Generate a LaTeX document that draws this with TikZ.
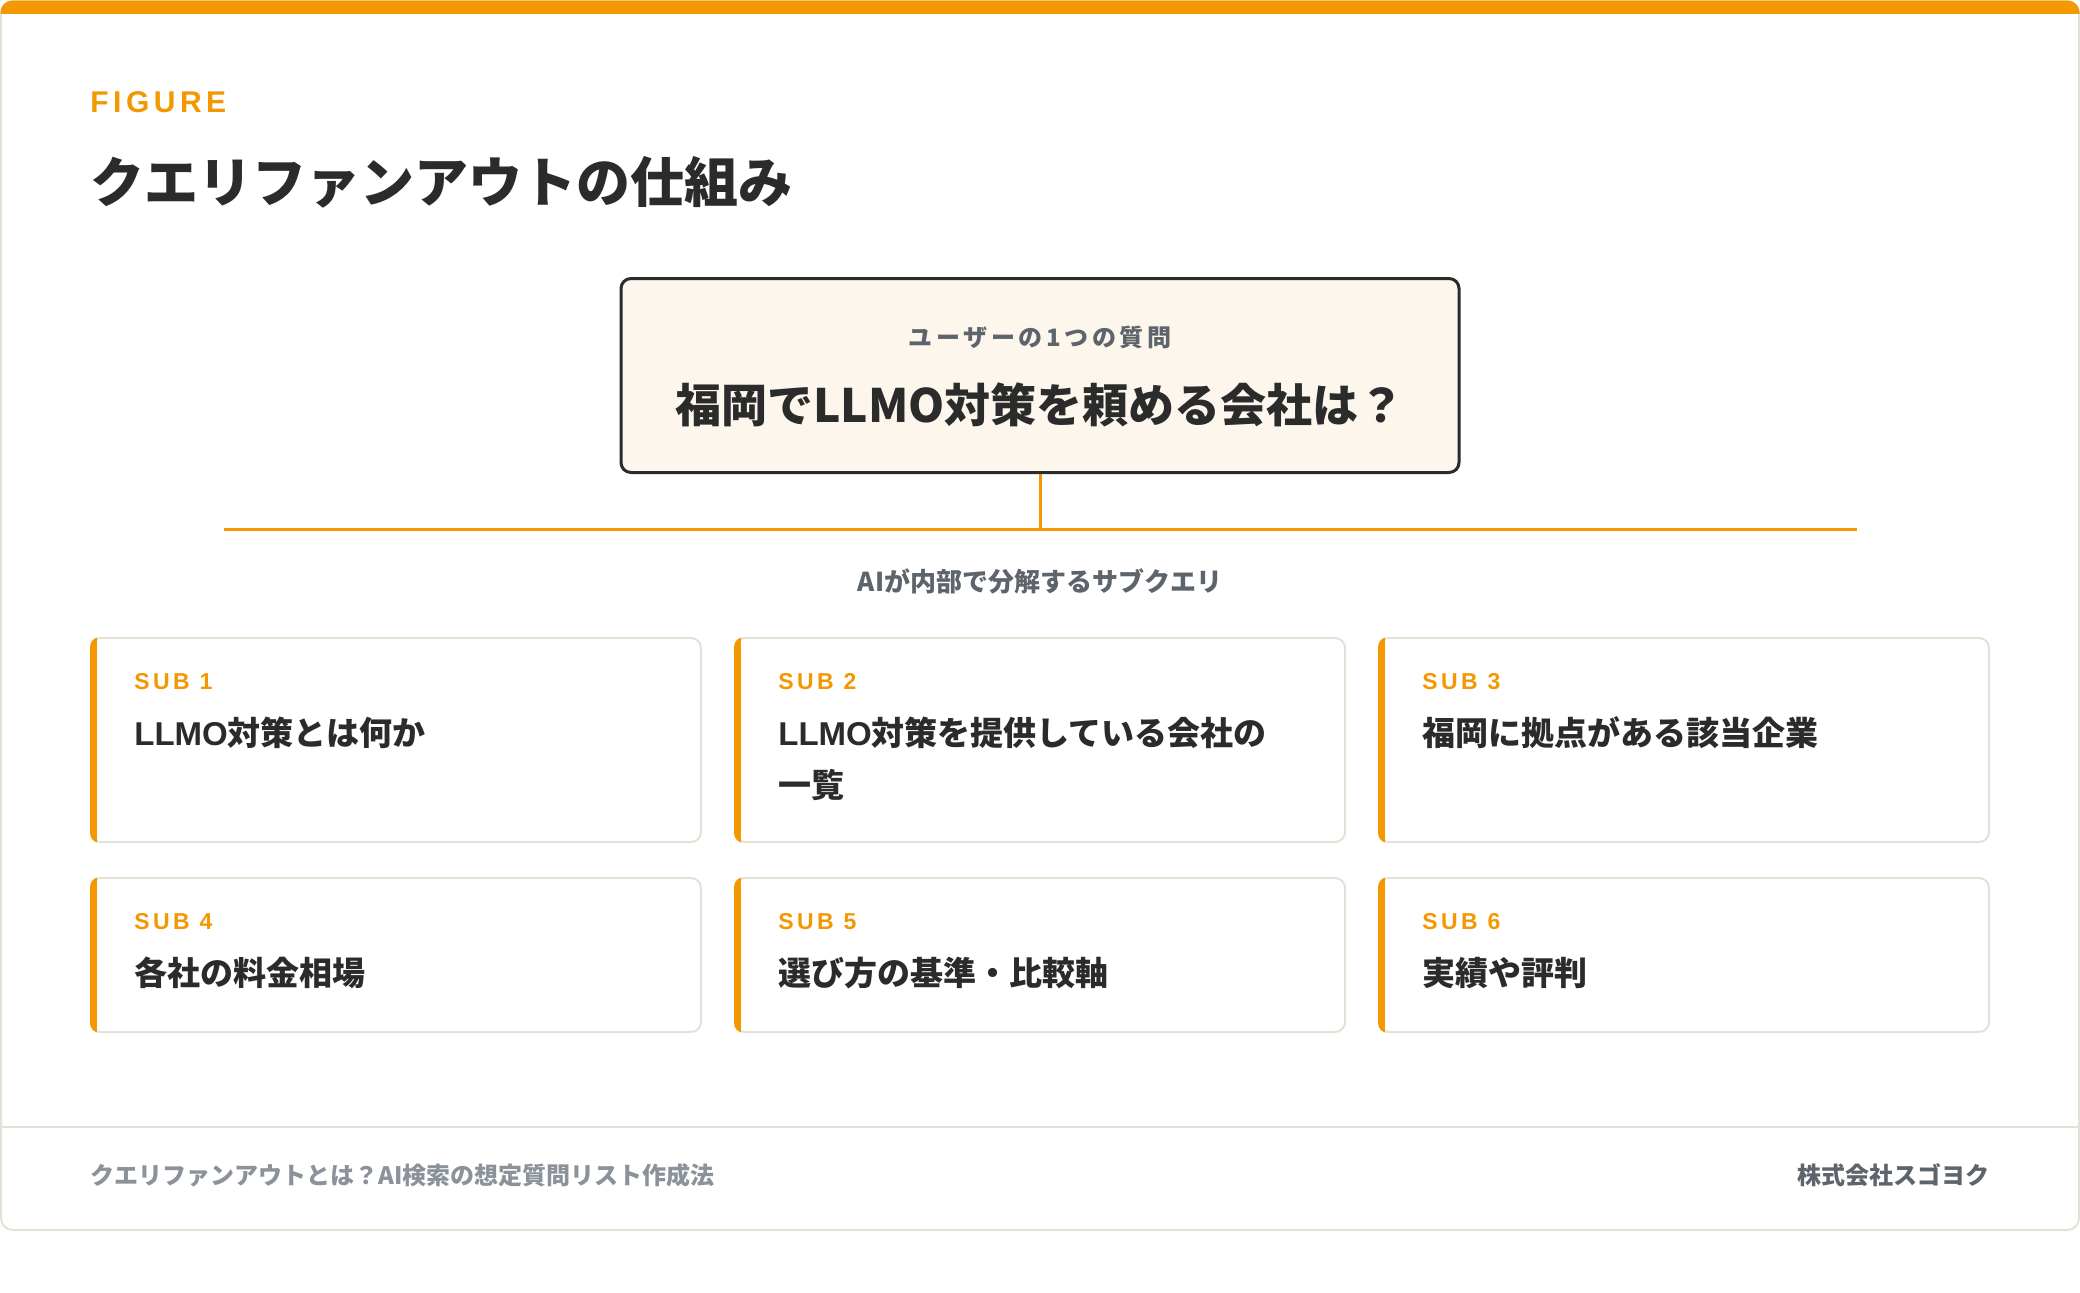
\documentclass[tikz,border=0pt]{standalone}
\usepackage{fontspec}
\setmainfont{Noto Sans CJK JP}
\newfontfamily\jp{Noto Sans CJK JP}
\newfontfamily\lat{Liberation Sans}
\newfontfamily\latsp{Liberation Sans}[LetterSpace=15]
\newfontfamily\jpsp{Noto Sans CJK JP}[LetterSpace=15]
\definecolor{acc}{HTML}{F39800}
\definecolor{ink}{HTML}{2B2B2B}
\definecolor{mute}{HTML}{5E646C}
\definecolor{lightgray}{HTML}{8C929A}
\definecolor{beige}{HTML}{E6E1D6}
\definecolor{cream}{HTML}{FDF6EC}
\tikzset{
  txt/.style={inner sep=0pt, anchor=west, text=ink},
  ctxt/.style={inner sep=0pt, anchor=center},
  card/.style={draw=beige, line width=1pt, fill=white, rounded corners=5pt,
    minimum width=305pt, inner sep=0pt},
  sublab/.style={inner sep=0pt, anchor=west, text=acc,
    font=\latsp\bfseries\fontsize{11.5pt}{12pt}\selectfont},
  subtxt/.style={inner sep=0pt, anchor=base west, text=ink,
    font=\jp\bfseries\fontsize{16.5pt}{26pt}\selectfont},
  connector/.style={draw=acc, line width=1.5pt},
}
\newcommand\subcard[6]{%
  \node[card, minimum height=#4] (#1) at (#2,#3) {};
  \begin{scope}
    \clip[rounded corners=5pt] (#1.north west) rectangle (#1.south east);
    \fill[acc] (#1.north west) rectangle ([xshift=3.5pt]#1.south west);
  \end{scope}
  \node[sublab] (#1l) at ([xshift=22pt,yshift=-22.5pt]#1.north west) {SUB #5};
  \node[subtxt] (#1t) at ([xshift=22pt,yshift=-54.3pt]#1.north west) {#6};
}
\begin{document}
\begin{tikzpicture}[x=0.5pt,y=-0.5pt]
\useasboundingbox (0,0) rectangle (2080,1292);
\fill[white] (0,0) rectangle (2080,1292);
% outer card
\draw[beige, line width=1pt, rounded corners=6pt] (1,1) rectangle (2079,1230);
\begin{scope}
  \clip[rounded corners=6pt] (0.5,0.5) rectangle (2079.5,1230);
  \fill[acc] (0,0) rectangle (2080,14);
\end{scope}
\draw[beige, line width=1pt] (2,1127) -- (2078,1127);

% header
\node[txt, text=acc] (fig) at (90,102) {\latsp\bfseries\fontsize{15pt}{16pt}\selectfont FIGURE};
\node[txt] (title) at (90,182) {\jp\bfseries\fontsize{27pt}{30pt}\selectfont クエリファンアウトの仕組み};

% main question
\node[draw=ink, line width=1.5pt, fill=cream, rounded corners=5pt,
      minimum width=419pt, minimum height=97pt, inner sep=0pt] (q) at (1040,375.5) {};
\node[ctxt, text=mute] (qlab) at (1040,337) {\jpsp\bfseries\fontsize{12pt}{13pt}\selectfont ユーザーの1つの質問};
\node[ctxt, text=ink] (qtext) at (1040,405) {\jp\bfseries\fontsize{23pt}{26pt}\selectfont 福岡でLLMO対策を頼める会社は？};

% fan-out connector
\coordinate (hub) at (1040,529);
\coordinate (barL) at (224,529);
\coordinate (barR) at (1857,529);
\draw[connector] (q.south) -- (hub);
\draw[connector] (barL) -- (barR);
\node[ctxt, text=mute] (fan) at (1040,581) {\jp\bfseries\fontsize{13pt}{14pt}\selectfont AIが内部で分解するサブクエリ};

% sub queries
\subcard{c1}{396}{740}{102pt}{1}{{\lat\bfseries LLMO}対策とは何か}
\subcard{c2}{1040}{740}{102pt}{2}{\begin{tabular}[t]{@{}l@{}}{\lat\bfseries LLMO}対策を提供している会社の\\一覧\end{tabular}}
\subcard{c3}{1684}{740}{102pt}{3}{福岡に拠点がある該当企業}
\subcard{c4}{396}{955}{77pt}{4}{各社の料金相場}
\subcard{c5}{1040}{955}{77pt}{5}{選び方の基準・比較軸}
\subcard{c6}{1684}{955}{77pt}{6}{実績や評判}

% footer
\node[txt, text=lightgray] (fl) at (90,1175) {\jp\bfseries\fontsize{12pt}{13pt}\selectfont クエリファンアウトとは？AI検索の想定質問リスト作成法};
\node[inner sep=0pt, anchor=east, text=mute] (fr) at (1990,1175) {\jp\bfseries\fontsize{12pt}{13pt}\selectfont 株式会社スゴヨク};
\end{tikzpicture}
\end{document}
